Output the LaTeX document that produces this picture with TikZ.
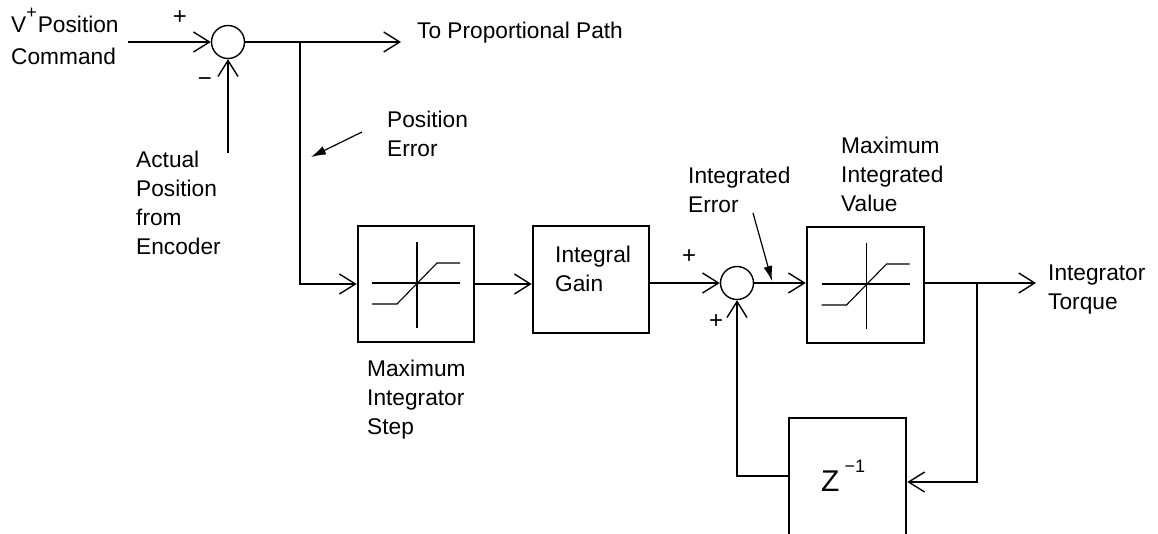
\documentclass[tikz,border=0pt]{standalone}
\usepackage{fontspec}
\setmainfont{Liberation Sans}
\usetikzlibrary{arrows.meta,calc}
% left-aligned lines whose baseline is the first line's baseline
\newcommand\stacklines[1]{\vtop{\halign{##\hfil\cr#1\crcr}}}

\tikzset{
  sat/.pic={
    \draw[line width=1.1pt] (-44,-1) -- (44,-1);
    \draw[line width=1.1pt] (1,-42) -- (1,44);
    \draw[line width=1.1pt] (-44,20) -- (-19,20) -- (21,-21) -- (44,-21);
  }
}

\begin{document}
\begin{tikzpicture}[x=1pt,y=-1pt,
  wire/.style={line width=1.4pt},
  flow/.style={wire,-{Straight Barb[length=16pt,width=20pt]}},
  pointer/.style={line width=1.2pt,-{Latex[length=15pt,width=9pt]}},
  block/.style={draw,line width=2.6pt,minimum width=116pt,minimum height=116pt,inner sep=0pt},
  summer/.style={draw,circle,line width=1.4pt,minimum size=33pt,inner sep=0pt},
  txt/.style={inner sep=0pt,anchor=base west,font=\fontsize{22.7}{29}\selectfont},
  signtxt/.style={inner sep=0pt,font=\fontsize{24}{29}\selectfont}
]
\clip (0,0) rectangle (1158,533);

% summing junctions and blocks
\node[summer] (s1) at (228,42) {};
\node[summer] (s2) at (737,283) {};
\node[block] (b1) at (416,284) {};
\node[block,minimum height=107pt] (b2) at (591,279.5) {};
\node[block,minimum width=117pt] (b3) at (865.5,285) {};
\node[block,minimum width=117pt,minimum height=122pt] (zb) at (847.5,479) {};
\pic at (b1.center) {sat};
\pic at (b3.center) {sat};

% free ends and branch points
\coordinate (cmd) at (128,42);
\coordinate (act) at (228,153);
\coordinate (prop) at (401,42);
\coordinate (br1) at (300,42);
\coordinate (tq) at (1036,283);
\coordinate (br2) at (977,283);
\coordinate (zin) at (977,482);
\coordinate (zout) at (737,476);
\coordinate (pe) at (362,132);
\coordinate (pet) at (311,157);
\coordinate (ie) at (753,213);
\coordinate (iet) at (772,281);

% signal paths
\draw[flow] (cmd) -- (s1.west);
\draw[flow] (act) -- (s1.south);
\draw[flow] (s1.east) -- (prop);
\draw[flow] (br1) |- (b1.west);
\draw[flow] (b1.east) -- (b1.east -| b2.west);
\draw[flow] (b2.east |- s2) -- (s2.west);
\draw[flow] (s2.east) -- (s2 -| b3.west);
\draw[flow] (b3.east |- s2) -- (tq);
\draw[flow] (br2) |- (zb.east |- zin);
\draw[flow] (zb.west |- zout) -| (s2.south);

% label pointers
\draw[pointer] (pe) -- (pet);
\draw[pointer] (ie) -- (iet);

% texts
\node[txt] (lcmd) at (11,32) {\stacklines{V\raisebox{14pt}{\fontsize{18}{18}\selectfont +}\hspace{1pt}Position\cr\noalign{\vskip3pt}Command}};
\node[txt] (lprop) at (417,38) {To Proportional Path};
\node[txt] (lact) at (136,167) {\stacklines{Actual\cr Position\cr from\cr Encoder}};
\node[txt] (lpe) at (387,127) {\stacklines{Position\cr Error}};
\node[txt] (lmis) at (367,376) {\stacklines{Maximum\cr Integrator\cr Step}};
\node[txt] (lig) at (555,262) {\stacklines{Integral\cr Gain}};
\node[txt] (lie) at (688,183) {\stacklines{Integrated\cr Error}};
\node[txt] (lmiv) at (841,153) {\stacklines{Maximum\cr Integrated\cr Value}};
\node[txt] (ltq) at (1048,280) {\stacklines{Integrator\cr Torque}};
\node[txt] (lz) at (821,491) {\fontsize{30}{30}\selectfont Z\hspace{5pt}\raisebox{19pt}{\fontsize{18}{18}\selectfont −1}};

% signs at the junction inputs
\node[signtxt] (p1) at (180,18) {+};
\node[signtxt] (m1) at (205,82) {−};
\node[signtxt] (p2) at (689,257) {+};
\node[signtxt] (p3) at (716,322) {+};
\end{tikzpicture}
\end{document}
